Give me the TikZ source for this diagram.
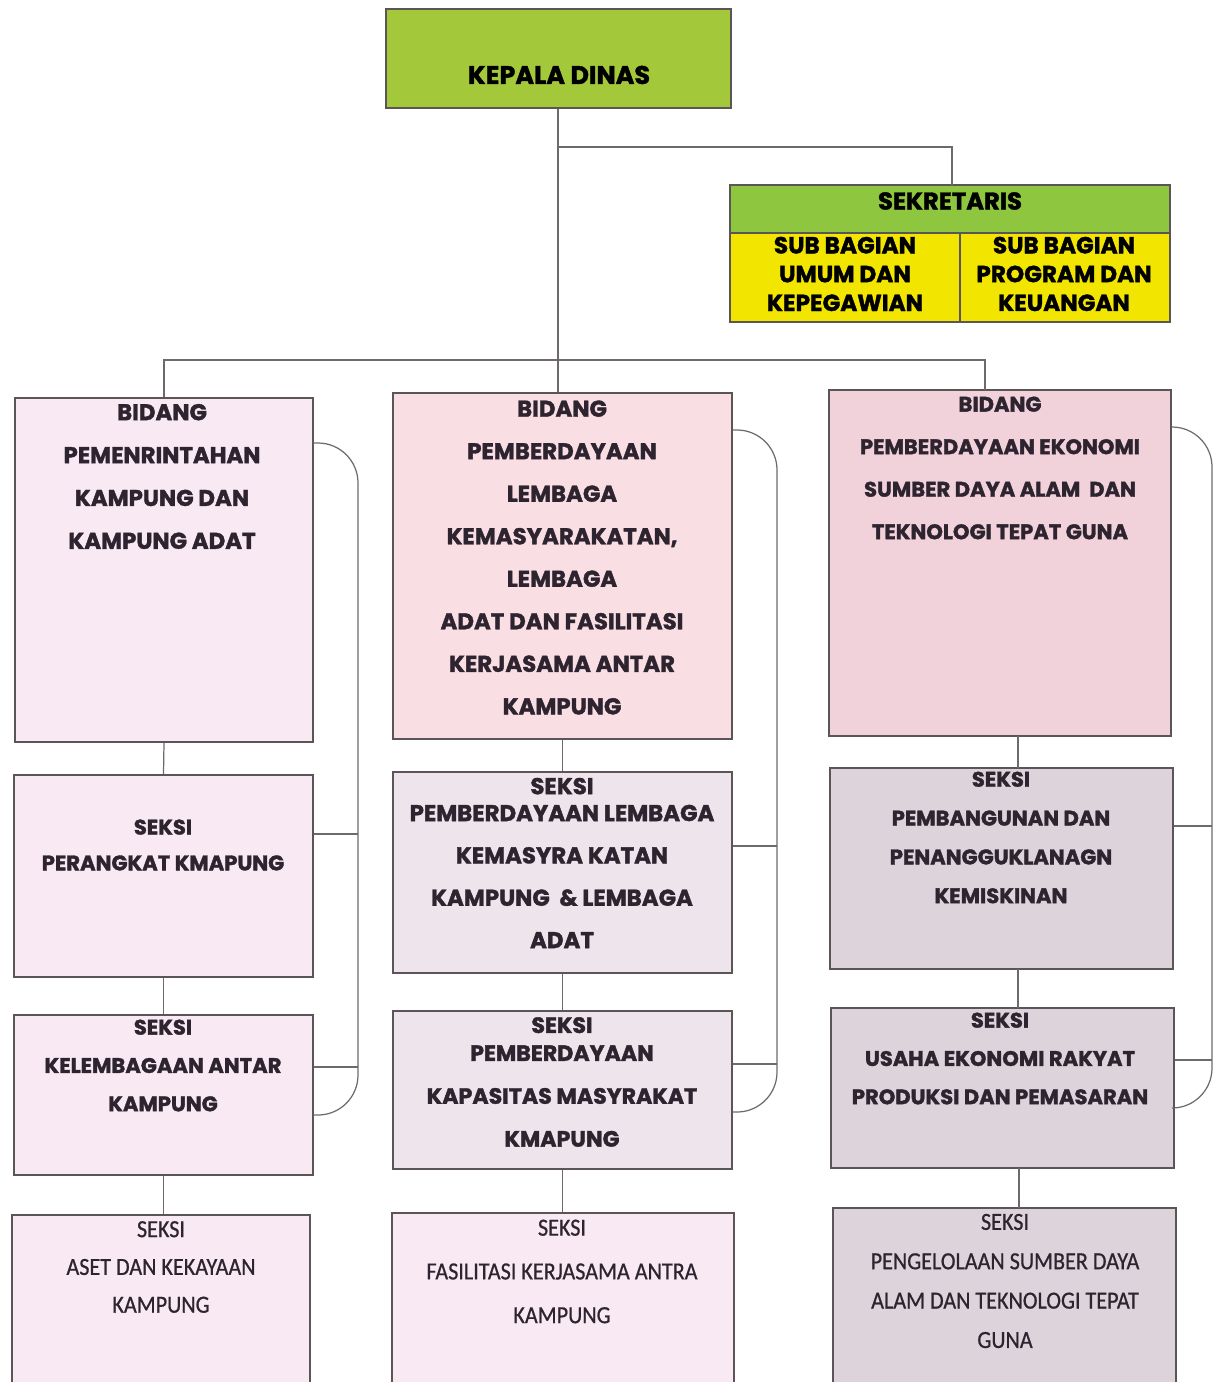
\documentclass[tikz,border=0pt]{standalone}
\usepackage{fontspec}
\newfontfamily\headfont{Poppins}[BoldFeatures={FakeBold=1.6}]
\newfontfamily\plainfont{Carlito}[FakeStretch=0.9,FakeBold=0.7]
\usetikzlibrary{fit,positioning}
\definecolor{KdGreen}{HTML}{A3C93A}
\definecolor{SekGreen}{HTML}{8EC63F}
\definecolor{SubYellow}{HTML}{F2E500}
\definecolor{PinkL}{HTML}{F9E9F3}
\definecolor{PinkM}{HTML}{F9DEE3}
\definecolor{MauveM}{HTML}{EEE4EB}
\definecolor{PinkR}{HTML}{F1D2DA}
\definecolor{MauveR}{HTML}{DDD3DB}
\definecolor{Ink}{HTML}{2D2430}
\definecolor{Frame}{HTML}{5B5558}
\definecolor{Wire}{HTML}{6E6A6C}
% heavy caps and plain caps: size, baselineskip
\newcommand{\hd}[2]{\headfont\bfseries\fontsize{#1}{#2}\selectfont}
\newcommand{\pl}[1]{\plainfont\fontsize{14}{#1}\selectfont}
\tikzset{
  unitbox/.style={draw=Frame, line width=0.8pt, inner sep=0pt},
  lbl/.style={inner sep=0pt, align=center, text=Ink},
  toplbl/.style={inner sep=0pt, align=center, text=black},
  link/.style={draw=Wire, line width=0.7pt},
  brace/.style={draw=Wire, line width=0.7pt, rounded corners=0.8cm}
}
\begin{document}
\begin{tikzpicture}[x=0.02cm,y=-0.02cm]
  \clip (0,0) rectangle (1214,1382);
  \fill[white] (0,0) rectangle (1214,1382);

  % top
  \node[unitbox,fill=KdGreen,fit={(386,9) (731,108)}] (kd) {};
  \node[toplbl,font={\hd{14.5}{16pt}}] (kdT) at (559,75) {KEPALA DINAS};
  \node[unitbox,fill=SekGreen,fit={(730,185) (1170,233)}] (sek) {};
  \node[toplbl,font={\hd{13.8}{16pt}}] (sekT) at (950,201) {SEKRETARIS};
  \node[unitbox,fill=SubYellow,fit={(730,233) (960,322)}] (sbU) {};
  \node[unitbox,fill=SubYellow,fit={(960,233) (1170,322)}] (sbP) {};
  \node[toplbl,font={\hd{13.2}{16.4pt}}] (sbUT) at (845,274) {SUB BAGIAN\\UMUM DAN\\KEPEGAWIAN};
  \node[toplbl,font={\hd{13.2}{16.4pt}}] (sbPT) at (1064,274) {SUB BAGIAN\\PROGRAM DAN\\KEUANGAN};

  % left column
  \node[unitbox,fill=PinkL,fit={(15,398) (313,742)}] (bPem) {};
  \node[lbl,font={\hd{13}{24.4pt}}] (bPemT) at (162,476.5) {BIDANG\\PEMENRINTAHAN\\KAMPUNG DAN\\KAMPUNG ADAT};
  \node[unitbox,fill=PinkL,fit={(14,775) (313,977)}] (sPer) {};
  \node[lbl,font={\hd{12}{20.4pt}}] (sPerT) at (163,845) {SEKSI\\PERANGKAT KMAPUNG};
  \node[unitbox,fill=PinkL,fit={(14,1015) (313,1175)}] (sKel) {};
  \node[lbl,font={\hd{12}{21.8pt}}] (sKelT) at (163,1065.5) {SEKSI\\KELEMBAGAAN ANTAR\\KAMPUNG};
  \node[unitbox,fill=PinkL,fit={(12,1215) (310,1400)}] (sAset) {};
  \node[lbl,font={\pl{21.5pt}}] (sAsetT) at (161,1267) {SEKSI\\ASET DAN KEKAYAAN\\KAMPUNG};

  % middle column
  \node[unitbox,fill=PinkM,fit={(393,393) (732,739)}] (bLem) {};
  \node[lbl,font={\hd{13}{24.2pt}}] (bLemT) at (562,557.5) {BIDANG\\PEMBERDAYAAN\\LEMBAGA\\KEMASYARAKATAN,\\LEMBAGA\\ADAT DAN FASILITASI\\KERJASAMA ANTAR\\KAMPUNG};
  \node[unitbox,fill=MauveM,fit={(393,772) (732,973)}] (sLem) {};
  \node[lbl,font={\hd{13}{24.1pt}}] (sLemT) at (562,863) {SEKSI\\[-8.8pt]PEMBERDAYAAN LEMBAGA\\KEMASYRA KATAN\\KAMPUNG \ \& LEMBAGA\\ADAT};
  \node[unitbox,fill=MauveM,fit={(393,1011) (732,1169)}] (sKap) {};
  \node[lbl,font={\hd{12.6}{24.4pt}}] (sKapT) at (562,1082) {SEKSI\\[-8.5pt]PEMBERDAYAAN\\KAPASITAS MASYRAKAT\\KMAPUNG};
  \node[unitbox,fill=PinkL,fit={(392,1213) (734,1400)}] (sFas) {};
  \node[lbl,font={\pl{24.9pt}}] (sFasT) at (562,1271.5) {SEKSI\\FASILITASI KERJASAMA ANTRA\\KAMPUNG};

  % right column
  \node[unitbox,fill=PinkR,fit={(829,390) (1171,736)}] (bEko) {};
  \node[lbl,font={\hd{12}{24.2pt}}] (bEkoT) at (1000,468) {BIDANG\\PEMBERDAYAAN EKONOMI\\SUMBER DAYA ALAM \ DAN\\TEKNOLOGI TEPAT GUNA};
  \node[unitbox,fill=MauveR,fit={(830,768) (1173,969)}] (sPen) {};
  \node[lbl,font={\hd{12}{22.1pt}}] (sPenT) at (1001,837.5) {SEKSI\\PEMBANGUNAN DAN\\PENANGGUKLANAGN\\KEMISKINAN};
  \node[unitbox,fill=MauveR,fit={(831,1008) (1174,1168)}] (sUsa) {};
  \node[lbl,font={\hd{12}{21.8pt}}] (sUsaT) at (1000,1058.5) {SEKSI\\USAHA EKONOMI RAKYAT\\PRODUKSI DAN PEMASARAN};
  \node[unitbox,fill=MauveR,fit={(833,1208) (1176,1400)}] (sSda) {};
  \node[lbl,font={\pl{22.4pt}}] (sSdaT) at (1005,1281) {SEKSI\\PENGELOLAAN SUMBER DAYA\\ALAM DAN TEKNOLOGI TEPAT\\GUNA};

  % wiring
  \coordinate (hub) at (558,360);
  \coordinate (sekJoin) at (558,147);
  \draw[link] (kd.south -| hub) -- (hub);
  \draw[link] (sekJoin) -| (952,185);
  \draw[link] (bPem.north) |- (hub) -| (985,390);
  \draw[link] (hub) -- (bLem.north -| hub);

  \draw[link] (bPem.south) -- (sPer.north);
  \draw[link] (sPer.south) -- (sKel.north);
  \draw[link] (sKel.south) -- (sAset.north -| sKel.south);
  \draw[link] (bLem.south) -- (sLem.north);
  \draw[link] (sLem.south) -- (sKap.north);
  \draw[link] (sKap.south) -- (sFas.north -| sKap.south);
  \draw[link] (1018,736) -- (1018,768);
  \draw[link] (1018,969) -- (1018,1008);
  \draw[link] (1019,1168) -- (1019,1208);

  % brackets
  \draw[brace] (bPem.east |- 0,443) -| (358,1115) -- (sKel.east |- 0,1115);
  \draw[link] (sPer.east |- 0,834) -- (358,834);
  \draw[link] (sKel.east |- 0,1067) -- (358,1067);
  \draw[brace] (bLem.east |- 0,430) -| (777,1112) -- (sKap.east |- 0,1112);
  \draw[link] (sLem.east |- 0,846) -- (777,846);
  \draw[link] (sKap.east |- 0,1064) -- (777,1064);
  \draw[brace] (bEko.east |- 0,427) -| (1212,1108) -- (sUsa.east |- 0,1108);
  \draw[link] (sPen.east |- 0,826) -- (1212,826);
  \draw[link] (sUsa.east |- 0,1060) -- (1212,1060);
\end{tikzpicture}
\end{document}
